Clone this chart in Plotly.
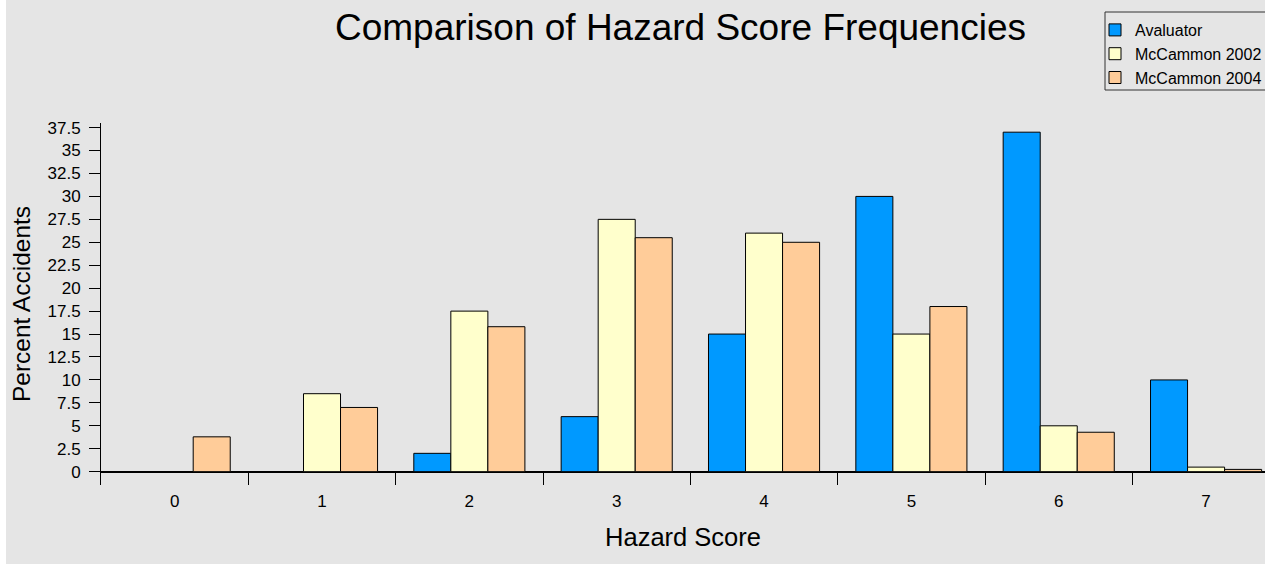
import plotly.graph_objects as go

categories = ["0", "1", "2", "3", "4", "5", "6", "7"]
avaluator = [0, 0, 2, 6, 15, 30, 37, 10]
mccammon_2002 = [0, 8.5, 17.5, 27.5, 26, 15, 5, 0.5]
mccammon_2004 = [3.8, 7.0, 15.8, 25.5, 25, 18, 4.3, 0.25]

series_names = ["Avaluator", "McCammon 2002", "McCammon 2004"]
series_colors = ["#0099FF", "#FFFFCC", "#FFCC99"]

W, H = 1265, 564
L, R, T, B = 101, 0, 123, 79
pw = W - L - R
ph = H - T - B
BG = "#E5E5E5"
FONT = "Liberation Sans, Arial, sans-serif"

def px_x(p):
    return (p - L) / pw

def px_y(p):
    return (H - B - p) / ph

fig = go.Figure()
for name, vals, col in zip(series_names, [avaluator, mccammon_2002, mccammon_2004], series_colors):
    fig.add_trace(go.Bar(
        x=categories, y=vals, name=name,
        marker=dict(color=col, line=dict(color="black", width=1)),
    ))

fig.update_layout(
    width=W, height=H,
    margin=dict(l=L, r=R, t=T, b=B, pad=0, autoexpand=False),
    paper_bgcolor=BG, plot_bgcolor=BG,
    font=dict(family=FONT, color="black", size=16),
    barmode="group", bargap=0.246, bargroupgap=0,
    title=dict(text="Comparison of Hazard Score Frequencies",
               font=dict(size=37, family=FONT, color="black"),
               x=px_x(680.5), xref="paper", xanchor="center",
               y=1 - 27 / H, yref="container", yanchor="middle"),
    xaxis=dict(type="category", range=[-0.5, 7.4], tickson="boundaries",
               ticks="inside", ticklen=13, tickcolor="black", tickwidth=1,
               showline=False, showgrid=False, zeroline=False,
               ticklabelstandoff=4,
               tickfont=dict(size=17),
               title=dict(text="Hazard Score", font=dict(size=25.5), standoff=18)),
    yaxis=dict(range=[-1.45, 38], tick0=0, dtick=2.5, tickmode="linear",
               ticks="outside", ticklen=11, tickcolor="black", tickwidth=1,
               showline=True, linecolor="black", linewidth=1,
               showgrid=False, zeroline=True, zerolinecolor="black", zerolinewidth=2,
               ticklabelstandoff=5,
               tickfont=dict(size=17),
               title=dict(text="Percent Accidents", font=dict(size=24.5), standoff=9)),
    legend=dict(x=px_x(1095), xanchor="left", y=px_y(13), yanchor="top",
                bgcolor="rgba(0,0,0,0)", borderwidth=0,
                font=dict(size=16), tracegroupgap=0, itemwidth=30),
    showlegend=True,
    shapes=[
        dict(type="rect", xref="paper", yref="paper",
             x0=px_x(1105), x1=px_x(1290), y0=px_y(90), y1=px_y(12),
             fillcolor=BG, line=dict(color="#333333", width=1), layer="below"),
        dict(type="rect", xref="paper", yref="paper",
             x0=px_x(0), x1=px_x(6), y0=px_y(H), y1=px_y(0),
             fillcolor="white", line=dict(width=0), layer="above"),
    ],
)

fig.write_html("out.html", config={"displayModeBar": False},
               post_script="document.body.style.margin='0';document.body.style.overflow='hidden';")
